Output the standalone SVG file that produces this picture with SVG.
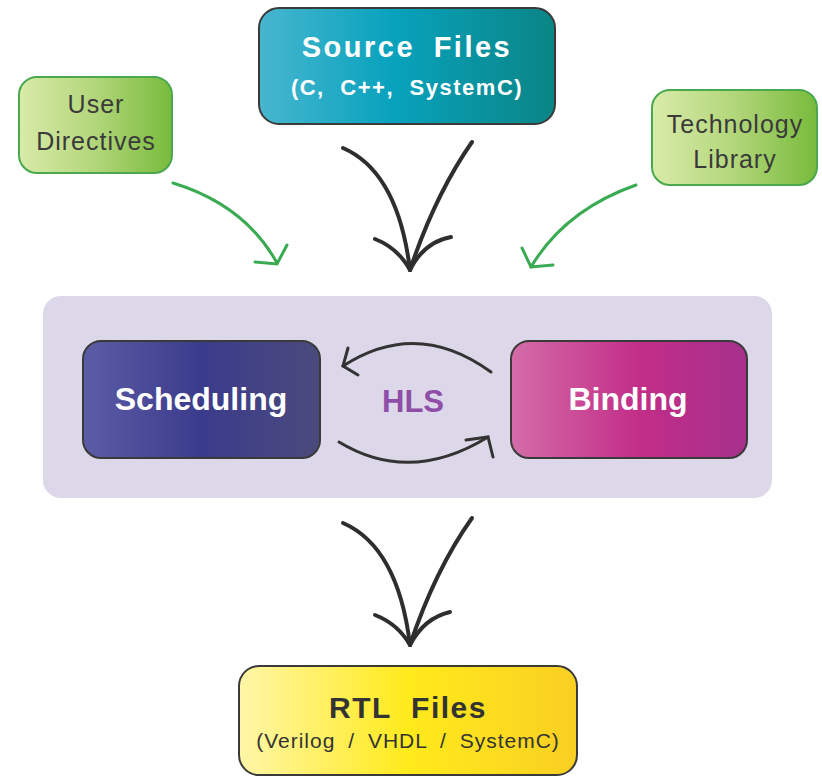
<svg xmlns="http://www.w3.org/2000/svg" width="822" height="777" viewBox="0 0 822 777">
<defs>
<linearGradient id="gSrc" x1="0" y1="0" x2="1" y2="0">
<stop offset="0" stop-color="#48b6cf"/><stop offset="0.45" stop-color="#08a2bd"/><stop offset="1" stop-color="#0a8585"/>
</linearGradient>
<linearGradient id="gGreen" x1="0" y1="0" x2="1" y2="0">
<stop offset="0" stop-color="#d9eba9"/><stop offset="0.5" stop-color="#b2d67a"/><stop offset="1" stop-color="#78bb3c"/>
</linearGradient>
<linearGradient id="gSched" x1="0" y1="0" x2="1" y2="0">
<stop offset="0" stop-color="#5c5ca6"/><stop offset="0.5" stop-color="#3b3b8c"/><stop offset="1" stop-color="#4b4a7c"/>
</linearGradient>
<linearGradient id="gBind" x1="0" y1="0" x2="1" y2="0">
<stop offset="0" stop-color="#d46ca8"/><stop offset="0.55" stop-color="#c22d88"/><stop offset="1" stop-color="#a6318c"/>
</linearGradient>
<linearGradient id="gRtl" x1="0" y1="0" x2="1" y2="0">
<stop offset="0" stop-color="#fff6a8"/><stop offset="0.5" stop-color="#ffea1c"/><stop offset="1" stop-color="#f9cf22"/>
</linearGradient>
</defs>
<style>
.dark{stroke:#3a3a3a;stroke-width:2}
.green{stroke:#4aa84f;stroke-width:2}
.w{fill:#fff;font-family:"Liberation Sans",Arial,sans-serif;font-weight:bold;text-anchor:middle}
.g{fill:#3a3a3a;font-family:"Liberation Sans",Arial,sans-serif;font-size:25px;letter-spacing:1px;text-anchor:middle}
.bk{fill:none;stroke:#2e2e2e;stroke-width:4;stroke-linecap:round}
.arc{fill:none;stroke:#333;stroke-width:3;stroke-linecap:round}
.ga{fill:none;stroke:#3aab52;stroke-width:3;stroke-linecap:round}
</style>

<g id="hls">
<rect x="43" y="296" width="729" height="202" rx="18" fill="#ddd7ea"/>
<text x="413" y="412" font-family="Liberation Sans,Arial,sans-serif" font-weight="bold" font-size="31" fill="#8e4ea8" text-anchor="middle">HLS</text>
</g>

<g id="source">
<rect x="259" y="8" width="296" height="116" rx="20" fill="url(#gSrc)" class="dark"/>
<text class="w" x="407" y="57" font-size="29" letter-spacing="2.5" word-spacing="8">Source Files</text>
<text class="w" x="407" y="95" font-size="22" letter-spacing="1.5" word-spacing="8">(C, C++, SystemC)</text>
</g>

<g id="user">
<rect x="19" y="77" width="153" height="96" rx="18" fill="url(#gGreen)" class="green"/>
<text class="g" x="96" y="113">User</text>
<text class="g" x="96" y="150">Directives</text>
</g>

<g id="tech">
<rect x="652" y="90" width="165" height="95" rx="18" fill="url(#gGreen)" class="green"/>
<text class="g" x="735" y="133">Technology</text>
<text class="g" x="735" y="168">Library</text>
</g>

<g id="scheduling">
<rect x="83" y="341" width="237" height="117" rx="18" fill="url(#gSched)" class="dark"/>
<text class="w" x="201" y="410" font-size="32">Scheduling</text>
</g>

<g id="binding">
<rect x="511" y="341" width="236" height="117" rx="18" fill="url(#gBind)" class="dark"/>
<text class="w" x="628" y="410" font-size="32">Binding</text>
</g>

<g id="rtl">
<rect x="239" y="666" width="338" height="109" rx="20" fill="url(#gRtl)" class="dark"/>
<text x="408" y="718" font-family="Liberation Sans,Arial,sans-serif" font-weight="bold" font-size="30" fill="#333" letter-spacing="1.5" word-spacing="10" text-anchor="middle">RTL Files</text>
<text x="408" y="748" font-family="Liberation Sans,Arial,sans-serif" font-size="21" fill="#333" letter-spacing="1" word-spacing="6" text-anchor="middle">(Verilog / VHDL / SystemC)</text>
</g>

<g id="connectors">
<path class="bk" d="M343,148 Q398,172 410,270"/>
<path class="bk" d="M472,142 Q435,195 410,270"/>
<path class="bk" d="M375,239 Q398,248 410,270"/>
<path class="bk" d="M451,237 Q424,242 410,270"/>

<path class="bk" d="M343,523 Q398,547 410,645"/>
<path class="bk" d="M472,518 Q435,570 410,645"/>
<path class="bk" d="M375,615 Q398,624 410,645"/>
<path class="bk" d="M450,612 Q424,618 410,645"/>

<path class="ga" d="M173,183 Q245,205 277,263"/>
<path class="ga" d="M255,262 L277,264 L287,245"/>
<path class="ga" d="M636,185 Q565,210 531,267"/>
<path class="ga" d="M522,248 L531,267 L553,265"/>

<path class="arc" d="M491,372 Q417,318 343,366"/>
<path class="arc" d="M348,348 L343,366 L358,375"/>
<path class="arc" d="M339,442 Q410,485 488,437"/>
<path class="arc" d="M466,440 L488,437 L493,457"/>
</g>
</svg>
